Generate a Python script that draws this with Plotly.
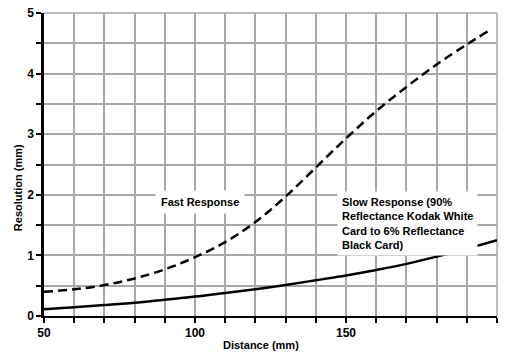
import plotly.graph_objects as go

fast_x = [50, 60, 70, 80, 90, 100, 110, 120, 130, 140, 150, 160, 170, 180, 190, 197]
fast_y = [0.40, 0.44, 0.51, 0.62, 0.77, 0.97, 1.22, 1.55, 1.97, 2.45, 2.93, 3.38, 3.78, 4.15, 4.48, 4.70]

slow_x = [50, 60, 70, 80, 90, 100, 110, 120, 130, 140, 150, 160, 170, 180, 190, 200]
slow_y = [0.11, 0.145, 0.18, 0.22, 0.27, 0.32, 0.38, 0.44, 0.51, 0.59, 0.67, 0.76, 0.86, 0.98, 1.11, 1.25]

x_ticks = list(range(50, 201, 10))
x_ticktext = [str(v) if v % 50 == 0 else "" for v in x_ticks]
y_ticks = [i * 0.5 for i in range(11)]
y_ticktext = [str(int(v)) if v == int(v) else "" for v in y_ticks]

FONT = "Liberation Sans, Arial, sans-serif"
GRID = "#a8a8a8"

fig = go.Figure()
fig.add_trace(go.Scatter(x=fast_x, y=fast_y, mode="lines", line_shape="spline",
                         line=dict(color="black", width=2.5, dash="9px,5px"),
                         name="Fast Response", showlegend=False))
fig.add_trace(go.Scatter(x=slow_x, y=slow_y, mode="lines", line_shape="spline",
                         line=dict(color="black", width=2.5),
                         name="Slow Response", showlegend=False))

fig.add_annotation(x=101.7, y=1.88, xref="x", yref="y", text="<b>Fast Response</b>",
                   showarrow=False, bgcolor="white", borderpad=5,
                   font=dict(family=FONT, size=11, color="black"))
fig.add_annotation(x=147.0, y=1.53, xref="x", yref="y", xanchor="left", yanchor="middle",
                   text="<b>Slow Response (90%<br>Reflectance Kodak White<br>Card to 6% Reflectance<br>Black Card)</b>",
                   align="left", showarrow=False, bgcolor="white", borderpad=4,
                   font=dict(family=FONT, size=11, color="black"))

fig.add_annotation(x=0.479, y=-0.122, xref="paper", yref="paper", text="<b>Distance (mm)</b>",
                   showarrow=False, font=dict(family=FONT, size=11, color="black"))
fig.add_annotation(x=-0.075, y=0.422, xref="paper", yref="paper", text="<b>Resolution (mm)</b>",
                   textangle=-90, showarrow=False, font=dict(family=FONT, size=11, color="black"))

# frame lines at top and right edges (grid colour)
fig.add_shape(type="line", xref="paper", yref="paper", x0=0, x1=1, y0=1, y1=1,
              line=dict(color=GRID, width=1.5), layer="below")
fig.add_shape(type="line", xref="paper", yref="paper", x0=1, x1=1, y0=0, y1=1,
              line=dict(color=GRID, width=1.5), layer="below")

fig.update_xaxes(range=[50, 200], tickvals=x_ticks, ticktext=x_ticktext,
                 showgrid=True, gridcolor=GRID, gridwidth=1.5, automargin=False,
                 showline=True, linecolor="black", linewidth=2,
                 ticks="outside", ticklen=5, tickcolor="black", tickwidth=1.5,
                 zeroline=False, tickfont=dict(family=FONT, size=12, color="black", weight="bold"))
fig.update_yaxes(range=[0, 5], tickvals=y_ticks, ticktext=y_ticktext,
                 showgrid=True, gridcolor=GRID, gridwidth=1.5, automargin=False,
                 showline=True, linecolor="black", linewidth=2.5,
                 ticks="outside", ticklen=5, tickcolor="black", tickwidth=1.5,
                 zeroline=False, tickfont=dict(family=FONT, size=12, color="black", weight="bold"))

fig.update_layout(width=507, height=360, margin=dict(l=44, r=10, t=13, b=44),
                  plot_bgcolor="white", paper_bgcolor="white", showlegend=False)

fig.write_html("out.html", config={"displayModeBar": False},
               post_script="document.body.style.margin='0px';")
